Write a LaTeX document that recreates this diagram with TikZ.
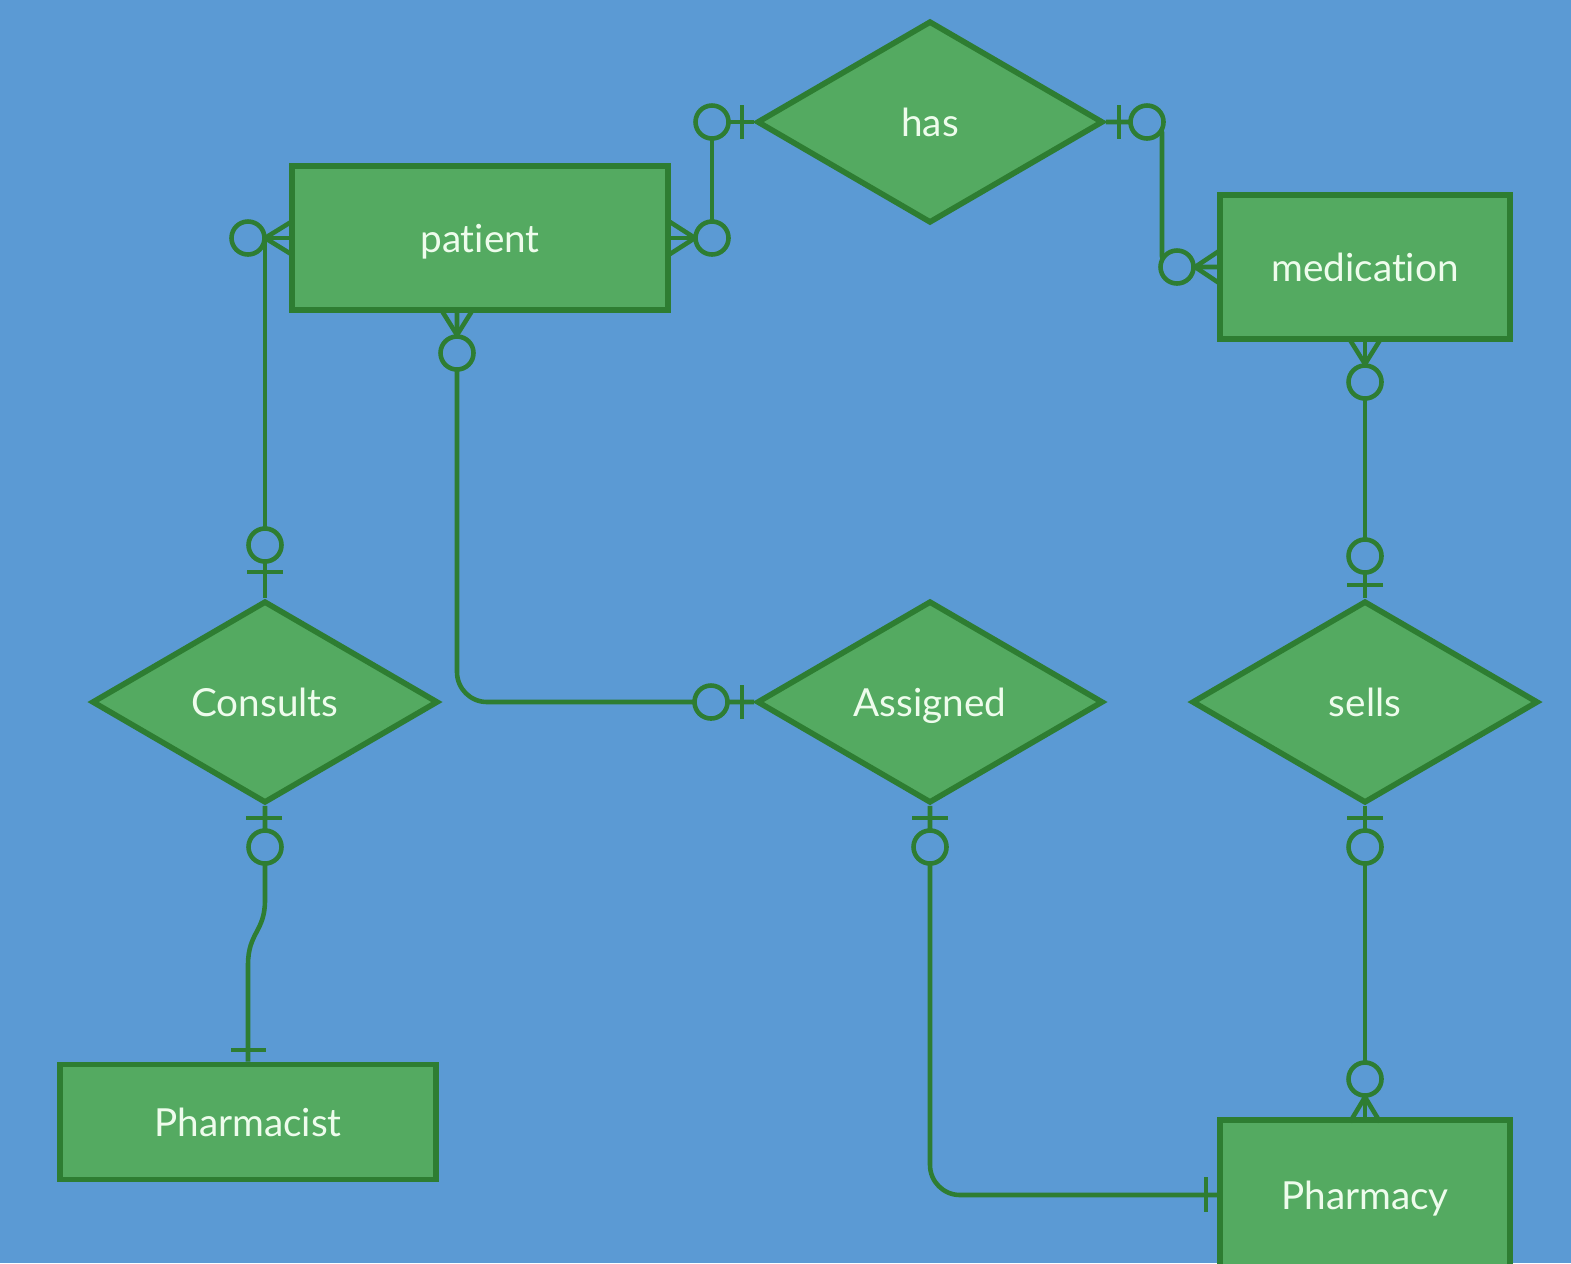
\documentclass[tikz,border=0pt]{standalone}
\usepackage{fontspec}
\setmainfont{Lato}[Ligatures=NoCommon]
\usetikzlibrary{shapes.geometric}
\definecolor{bgblue}{RGB}{91,154,212}
\definecolor{erfill}{RGB}{84,170,97}
\definecolor{erline}{RGB}{46,125,50}
\definecolor{ertext}{RGB}{238,252,236}
\tikzset{
  entity/.style={draw=erline, fill=erfill, line width=1.6pt, rectangle, inner sep=0pt, text height=1em, text depth=0.2em, text=ertext, font=\fontsize{11}{13}\selectfont},
  relation/.style={draw=erline, fill=erfill, line width=1.6pt, diamond, minimum width=3.46cm, minimum height=2.02cm, inner sep=0pt, text height=1em, text depth=0.2em, text=ertext, font=\fontsize{11}{13}\selectfont},
  link/.style={draw=erline, line width=1.3pt},
  zero/.style={draw=erline, fill=bgblue, line width=1.3pt, circle, minimum size=0.33cm, inner sep=0pt}
}

\begin{document}
\begin{tikzpicture}[x=0.01cm, y=-0.01cm]
\useasboundingbox (0,0) rectangle (1571,1263);
\clip (0,0) rectangle (1571,1263);
\fill[bgblue] (0,0) rectangle (1571,1263);

\node[entity, minimum width=3.76cm, minimum height=1.44cm](patient) at (480,238) {patient};
\node[entity, minimum width=2.9cm, minimum height=1.44cm](medication) at (1365,267) {medication};
\node[entity, minimum width=3.76cm, minimum height=1.15cm](pharmacist) at (248,1122) {Pharmacist};
\node[entity, minimum width=2.9cm, minimum height=1.5cm](pharmacy) at (1365,1195) {Pharmacy};

\node[relation](has) at (930,122) {has};
\node[relation](consults) at (265,702) {Consults};
\node[relation](assigned) at (930,702) {Assigned};
\node[relation](sells) at (1365,702) {sells};

\draw[link](patient.west) -| (consults.north);
\draw[link, rounded corners=0.3cm]([xshift=-0.23cm]patient.south) |- (assigned.west);
\draw[link](patient.east) -- (712,238) -- (712,122) -- (has.west);
\draw[link, rounded corners=3pt](has.east) -- (1162,122) -- (1162,267) -- (medication.west);
\draw[link](medication.south) to (sells.north);
\draw[link](consults.south) -- (265,900) .. controls (265,932) and (248,932) .. (248,965) -- (pharmacist.north);
\draw[link, rounded corners=0.3cm](assigned.south) |- (pharmacy.west);
\draw[link](sells.south) to (pharmacy.north);

\draw[link](265,238) -- (291,222) (265,238) -- (291,254);
\node[zero](pW0) at (248,238) {};
\draw[link](247,572) -- (283,572);
\node[zero](cN0) at (265,545) {};

\draw[link](457,335) -- (442,311) (457,335) -- (472,311);
\node[zero](pS0) at (457,353) {};
\draw[link](742,685) -- (742,719);
\node[zero](aW0) at (711,702) {};

\draw[link](695,238) -- (670,222) (695,238) -- (670,254);
\node[zero](pE0) at (712,238) {};
\draw[link](742,105) -- (742,139);
\node[zero](hW0) at (712,122) {};

\draw[link](1119,105) -- (1119,139);
\node[zero](hE0) at (1147,122) {};
\draw[link](1195,267) -- (1219,251) (1195,267) -- (1219,283);
\node[zero](mW0) at (1177,267) {};

\draw[link](1365,364) -- (1350,340) (1365,364) -- (1380,340);
\node[zero](mS0) at (1365,382) {};
\draw[link](1347,585) -- (1383,585);
\node[zero](sN0) at (1365,556) {};

\draw[link](246,818) -- (282,818);
\node[zero](cS0) at (265,847) {};
\draw[link](231,1050) -- (266,1050);

\draw[link](912,818) -- (948,818);
\node[zero](aS0) at (930,847) {};
\draw[link](1206,1177) -- (1206,1212);

\draw[link](1347,818) -- (1383,818);
\node[zero](sS0) at (1365,847) {};
\node[zero](yN0) at (1365,1079) {};
\draw[link](1365,1097) -- (1350,1122) (1365,1097) -- (1380,1122);
\end{tikzpicture}
\end{document}
